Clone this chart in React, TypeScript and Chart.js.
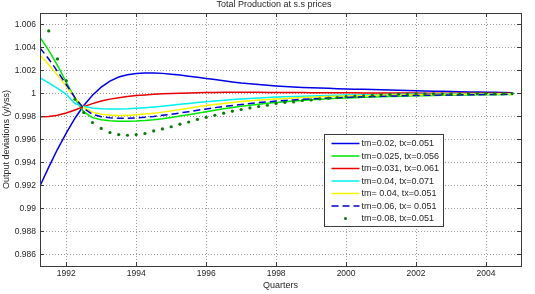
import React, { useEffect, useRef } from "react";
import { Chart, registerables } from "chart.js";

Chart.register(...registerables);

// Quarterly periods, 1991Q2 .. 2004Q4
const quarters: number[] = Array.from({ length: 55 }, (_, i) => 1991.25 + i * 0.25);

const xTicks = [1992, 1994, 1996, 1998, 2000, 2002, 2004];
const yTicks = [0.986, 0.988, 0.99, 0.992, 0.994, 0.996, 0.998, 1, 1.002, 1.004, 1.006];

const chartTitle = "Total Production at s.s prices";
const xTitle = "Quarters";
const yTitle = "Output deviations (y/yss)";

const seriesLabels = [
  "tm=0.02, tx=0.051",
  "tm=0.025, tx=0.056",
  "tm=0.031, tx=0.061",
  "tm=0.04, tx=0.071",
  "tm= 0.04, tx=0.051",
  "tm=0.06, tx= 0.051",
  "tm=0.08, tx=0.051",
];

const tm020 = [
  0.99196, 0.9936, 0.99515, 0.99655, 0.99785, 0.99895, 0.99985, 1.00055, 1.00108, 1.00143,
  1.00163, 1.00174, 1.00178, 1.00178, 1.00175, 1.00168, 1.0016, 1.00151, 1.00141, 1.00131,
  1.00121, 1.00111, 1.00101, 1.00092, 1.00085, 1.00079, 1.00072, 1.00066, 1.00061, 1.00057,
  1.00053, 1.0005, 1.00047, 1.00045, 1.00042, 1.0004, 1.00038, 1.00036, 1.00034, 1.00032,
  1.0003, 1.00028, 1.00026, 1.00024, 1.00022, 1.0002, 1.00019, 1.00017, 1.00016, 1.00014,
  1.00013, 1.00011, 1.0001, 1.00008, 1.00007,
];

const tm025 = [
  1.00487, 1.00375, 1.00245, 1.001, 0.99955, 0.9984, 0.9979, 0.99772, 0.99763, 0.99759,
  0.99758, 0.9976, 0.99765, 0.99772, 0.99781, 0.99792, 0.99804, 0.99816, 0.99829, 0.99842,
  0.99855, 0.99867, 0.99878, 0.99889, 0.99898, 0.99907, 0.99915, 0.99922, 0.99929, 0.99935,
  0.9994, 0.99945, 0.9995, 0.99954, 0.99958, 0.99961, 0.99964, 0.99967, 0.9997, 0.99972,
  0.99974, 0.99976, 0.99978, 0.9998, 0.99981, 0.99983, 0.99984, 0.99985, 0.99987, 0.99988,
  0.99989, 0.9999, 0.9999, 0.99991, 0.99992,
];

const tm031 = [
  0.99798, 0.998, 0.9981, 0.9983, 0.99857, 0.99886, 0.99912, 0.99934, 0.99951, 0.99964,
  0.99974, 0.99982, 0.99988, 0.99993, 0.99997, 1.0, 1.00003, 1.00005, 1.00007, 1.00008,
  1.00009, 1.0001, 1.0001, 1.0001, 1.0001, 1.0001, 1.00009, 1.00009, 1.00009, 1.00008,
  1.00008, 1.00007, 1.00007, 1.00007, 1.00006, 1.00006, 1.00006, 1.00005, 1.00005, 1.00005,
  1.00004, 1.00004, 1.00004, 1.00004, 1.00003, 1.00003, 1.00003, 1.00003, 1.00003, 1.00002,
  1.00002, 1.00002, 1.00002, 1.00002, 1.00002,
];

const tm040a = [
  1.00136, 1.00093, 1.00045, 0.99993, 0.99912, 0.99886, 0.99874, 0.99868, 0.99866, 0.99866,
  0.99868, 0.99872, 0.99877, 0.99883, 0.9989, 0.99898, 0.99906, 0.99914, 0.99921, 0.99928,
  0.99935, 0.99941, 0.99947, 0.99952, 0.99957, 0.99961, 0.99965, 0.99969, 0.99972, 0.99975,
  0.99977, 0.99979, 0.99981, 0.99983, 0.99985, 0.99986, 0.99987, 0.99988, 0.99989, 0.9999,
  0.99991, 0.99992, 0.99993, 0.99993, 0.99994, 0.99994, 0.99995, 0.99995, 0.99996, 0.99996,
  0.99996, 0.99997, 0.99997, 0.99997, 0.99997,
];

const tm040b = [
  1.00333, 1.0025, 1.0016, 1.00062, 0.99962, 0.9988, 0.99838, 0.9982, 0.99812, 0.99809,
  0.99809, 0.99815, 0.99821, 0.99829, 0.99838, 0.99848, 0.9986, 0.99872, 0.99884, 0.99895,
  0.99905, 0.99914, 0.99922, 0.9993, 0.99937, 0.99943, 0.99948, 0.99953, 0.99957, 0.99961,
  0.99965, 0.99968, 0.99971, 0.99973, 0.99976, 0.99978, 0.9998, 0.99981, 0.99983, 0.99984,
  0.99986, 0.99987, 0.99988, 0.99989, 0.9999, 0.99991, 0.99992, 0.99992, 0.99993, 0.99994,
  0.99994, 0.99995, 0.99995, 0.99996, 0.99996,
];

const tm060 = [
  1.00397, 1.003, 1.00192, 1.00078, 0.99964, 0.9987, 0.9982, 0.99798, 0.99789, 0.99785,
  0.99785, 0.99788, 0.99794, 0.99801, 0.9981, 0.9982, 0.99831, 0.99842, 0.99854, 0.99866,
  0.99877, 0.99887, 0.99896, 0.99905, 0.99913, 0.99921, 0.99927, 0.99934, 0.99939, 0.99944,
  0.99949, 0.99953, 0.99957, 0.9996, 0.99963, 0.99966, 0.99969, 0.99971, 0.99973, 0.99975,
  0.99977, 0.99979, 0.99981, 0.99982, 0.99984, 0.99985, 0.99986, 0.99987, 0.99988, 0.99989,
  0.9999, 0.99991, 0.99992, 0.99992, 0.99993,
];

const tm080 = [
  1.008, 1.00544, 1.00301, 1.0011, 0.9995, 0.99835, 0.99748, 0.99696, 0.99661, 0.99643,
  0.99637, 0.99643, 0.99652, 0.99675, 0.99692, 0.99711, 0.99733, 0.99752, 0.99775, 0.99793,
  0.99811, 0.99829, 0.99846, 0.99861, 0.99875, 0.99887, 0.99898, 0.99913, 0.99923, 0.99927,
  0.99939, 0.99944, 0.99953, 0.99959, 0.99965, 0.99974, 0.99977, 0.99979, 0.99985, 0.99989,
  0.99992, 0.99994, 0.99995, 0.99996, 0.99996, 0.99997, 0.99997, 0.99998, 0.99998, 0.99998,
  0.99999, 0.99999, 0.99999, 0.99999, 0.99999,
];

const FONT = '"Liberation Sans", Arial, Helvetica, sans-serif';
const TEXT = "#262626";
const AXIS = "#3a3a3a";
const GRID = "#9a9a9a";

type Style = { color: string; dash?: number[]; dots?: boolean };
const styles: Style[] = [
  { color: "#0000e6" },
  { color: "#00e600" },
  { color: "#e60000" },
  { color: "#00f0f0" },
  { color: "#f5f500" },
  { color: "#0000d0", dash: [7, 4] },
  { color: "#0a7a0a", dots: true },
];

const seriesValues = [tm020, tm025, tm031, tm040a, tm040b, tm060, tm080];

// Box, inward tick marks, titles and the in-plot legend
const framePlugin = {
  id: "frame",
  afterDraw(chart: any) {
    const { ctx, chartArea: a, scales } = chart;
    const xs = scales.x;
    const ys = scales.y;
    ctx.save();
    ctx.strokeStyle = AXIS;
    ctx.lineWidth = 1;
    ctx.strokeRect(Math.round(a.left) + 0.5, Math.round(a.top) + 0.5, Math.round(a.right - a.left), Math.round(a.bottom - a.top));
    ctx.beginPath();
    for (const v of xTicks) {
      const px = Math.round(xs.getPixelForValue(v)) + 0.5;
      ctx.moveTo(px, a.bottom);
      ctx.lineTo(px, a.bottom - 4);
      ctx.moveTo(px, a.top);
      ctx.lineTo(px, a.top + 4);
    }
    for (const v of yTicks) {
      const py = Math.round(ys.getPixelForValue(v)) + 0.5;
      ctx.moveTo(a.left, py);
      ctx.lineTo(a.left + 4, py);
      ctx.moveTo(a.right, py);
      ctx.lineTo(a.right - 4, py);
    }
    ctx.stroke();

    // titles
    ctx.fillStyle = TEXT;
    ctx.font = `9px ${FONT}`;
    ctx.textAlign = "center";
    ctx.textBaseline = "alphabetic";
    ctx.fillText(chartTitle, 274, 6.5);
    ctx.fillText(xTitle, (a.left + a.right) / 2, 288);
    ctx.save();
    ctx.translate(8.5, (a.top + a.bottom) / 2);
    ctx.rotate(-Math.PI / 2);
    ctx.fillText(yTitle, 0, 0);
    ctx.restore();

    // legend
    const bx = 324.5;
    const by = 134.5;
    const bw = 119;
    const bh = 92;
    ctx.fillStyle = "#ffffff";
    ctx.fillRect(bx, by, bw, bh);
    ctx.strokeStyle = AXIS;
    ctx.strokeRect(bx, by, bw, bh);
    ctx.font = `9px ${FONT}`;
    ctx.textAlign = "left";
    ctx.textBaseline = "middle";
    seriesLabels.forEach((label, i) => {
      const st = styles[i];
      const cy = 143.5 + i * 12.5;
      if (st.dots) {
        ctx.fillStyle = st.color;
        ctx.beginPath();
        ctx.arc(345.5, cy, 1.5, 0, Math.PI * 2);
        ctx.fill();
      } else {
        ctx.strokeStyle = st.color;
        ctx.lineWidth = 1.5;
        ctx.setLineDash(st.dash || []);
        ctx.beginPath();
        ctx.moveTo(331.5, cy);
        ctx.lineTo(359.5, cy);
        ctx.stroke();
        ctx.setLineDash([]);
      }
      ctx.fillStyle = TEXT;
      ctx.fillText(label, 361.5, cy + 0.5);
    });
    ctx.restore();
  },
};

export default function App() {
  const ref = useRef<HTMLCanvasElement | null>(null);

  useEffect(() => {
    if (!ref.current) return;
    const datasets = seriesValues.map((vals, i) => {
      const st = styles[i];
      return {
        label: seriesLabels[i],
        data: quarters.map((q, k) => ({ x: q, y: vals[k] })),
        borderColor: st.color,
        backgroundColor: st.color,
        borderWidth: st.dots ? 0 : 1.5,
        borderDash: st.dash || [],
        showLine: !st.dots,
        pointRadius: st.dots ? 1.6 : 0,
        pointBorderWidth: 0,
        pointHoverRadius: 0,
        tension: 0,
        order: seriesValues.length - i,
      };
    });

    const chart = new Chart(ref.current, {
      type: "line",
      data: { datasets },
      plugins: [framePlugin],
      options: {
        animation: false,
        responsive: false,
        devicePixelRatio: 1,
        layout: { padding: { left: 0, right: 14, top: 13, bottom: 0 } },
        plugins: {
          legend: { display: false },
          title: { display: false },
          tooltip: { enabled: false },
        },
        scales: {
          x: {
            type: "linear",
            min: 1991.25,
            max: 2005,
            afterBuildTicks: (s: any) => {
              s.ticks = xTicks.map((v) => ({ value: v }));
            },
            afterFit: (s: any) => {
              s.height = 28;
            },
            border: { display: false, dash: [1, 2] },
            grid: { color: GRID, lineWidth: 1, drawTicks: false },
            ticks: {
              autoSkip: false,
              maxRotation: 0,
              padding: 3,
              color: TEXT,
              font: { family: FONT, size: 8.5 },
              callback: (v: any) => String(v),
            },
          },
          y: {
            type: "linear",
            min: 0.985,
            max: 1.007,
            afterBuildTicks: (s: any) => {
              s.ticks = yTicks.map((v) => ({ value: v }));
            },
            afterFit: (s: any) => {
              s.width = 40;
            },
            border: { display: false, dash: [1, 2] },
            grid: { color: GRID, lineWidth: 1, drawTicks: false },
            ticks: {
              autoSkip: false,
              padding: 4,
              color: TEXT,
              font: { family: FONT, size: 8.5 },
              callback: (v: any) => String(Number(Number(v).toFixed(3))),
            },
          },
        },
      },
    });
    return () => chart.destroy();
  }, []);

  return (
    <div style={{ position: "fixed", left: 0, top: 0, width: 535, height: 294, background: "#fff" }}>
      <canvas ref={ref} width={535} height={294} style={{ display: "block" }} />
    </div>
  );
}
